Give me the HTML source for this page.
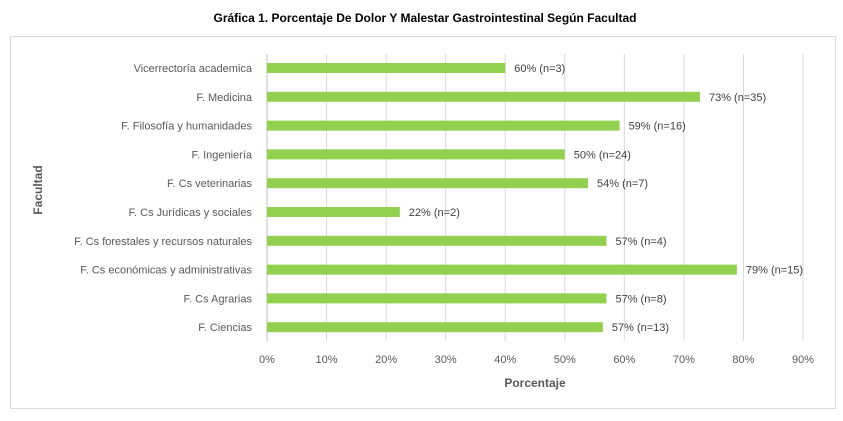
<!DOCTYPE html>
<html><head><meta charset="utf-8">
<style>
body{margin:0;background:#fff;font-family:"Liberation Sans",sans-serif;}
svg text{font-family:"Liberation Sans",sans-serif;}
</style></head>
<body>
<svg id="chart" width="843" height="416" xmlns="http://www.w3.org/2000/svg">
<text x="425" y="22" text-anchor="middle" font-size="12" font-weight="bold" fill="#000">Gráfica 1. Porcentaje De Dolor Y Malestar Gastrointestinal Según Facultad</text>
<rect x="10.5" y="36.5" width="825" height="372" fill="#fff" stroke="#d9d9d9"/>
<g id="grid"></g><g id="bars"></g><g id="labels"></g>
<text x="535" y="387" text-anchor="middle" font-size="12" font-weight="bold" fill="#595959">Porcentaje</text>
<text transform="translate(42,190) rotate(-90)" text-anchor="middle" font-size="12" font-weight="bold" fill="#595959">Facultad</text>
</svg>
<script>
const categories=["Vicerrectoría academica","F. Medicina","F. Filosofía y humanidades","F. Ingeniería","F. Cs veterinarias","F. Cs Jurídicas y sociales","F. Cs forestales y recursos naturales","F. Cs económicas y administrativas","F. Cs Agrarias","F. Ciencias"];
const values=[40,72.7,59.2,50,53.9,22.3,57,78.9,57,56.4];
const valueLabels=["60% (n=3)","73% (n=35)","59% (n=16)","50% (n=24)","54% (n=7)","22% (n=2)","57% (n=4)","79% (n=15)","57% (n=8)","57% (n=13)"];
const ticks=[0,10,20,30,40,50,60,70,80,90];
const NS="http://www.w3.org/2000/svg";
const x=v=>267+v*(803-267)/90;
const y=i=>68+i*28.8;
function mk(t,a,p){const e=document.createElementNS(NS,t);for(const k in a)e.setAttribute(k,a[k]);p.appendChild(e);return e;}
const grid=document.getElementById('grid'),bars=document.getElementById('bars'),labels=document.getElementById('labels');
ticks.forEach(t=>{
 const l=mk('line',{x1:x(t),x2:x(t),y1:54,y2:341,stroke:t===0?'#bfbfbf':'#d9d9d9','stroke-width':1},grid);
 
 
 const tx=mk('text',{x:x(t),y:363,'text-anchor':'middle','font-size':11,fill:'#595959'},grid);
 tx.textContent=t+'%';
 
 
});
categories.forEach((c,i)=>{
 const r=mk('rect',{x:x(0),y:y(i)-5,width:x(values[i])-x(0),height:10,fill:'#92d050'},bars);
 
 
 const cl=mk('text',{x:252,y:y(i)+4,'text-anchor':'end','font-size':11,fill:'#595959'},labels);
 cl.textContent=c;
 
 
 const vl=mk('text',{x:x(values[i])+9,y:y(i)+4,'font-size':11,fill:'#404040'},labels);
 vl.textContent=valueLabels[i];
 
 
});
</script>
</body></html>
